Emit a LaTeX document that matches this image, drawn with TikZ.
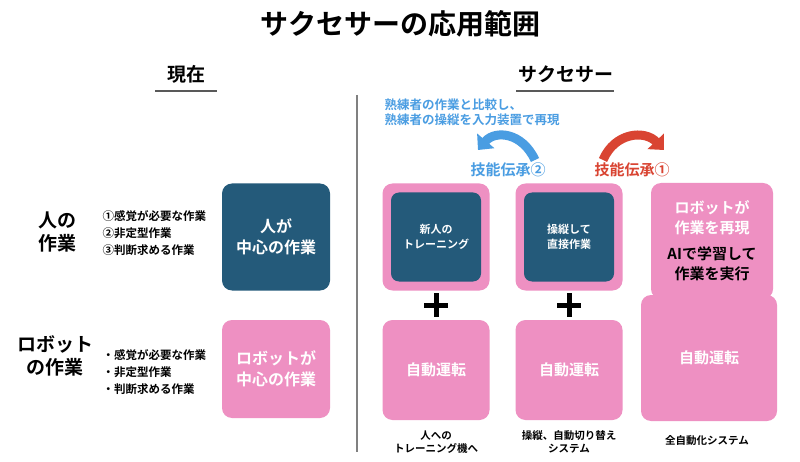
\documentclass[tikz,border=0pt]{standalone}
\usepackage{fontspec}
\setmainfont{Noto Sans CJK JP}[BoldFont={Noto Sans CJK JP Bold}]
\usetikzlibrary{arrows.meta}
\definecolor{dblue}{HTML}{245A7A}
\definecolor{pinkc}{HTML}{EE90C2}
\definecolor{lblue}{HTML}{4A9DE2}
\definecolor{redc}{HTML}{D94432}
\begin{document}
\begin{tikzpicture}[x=1pt,y=-1pt,
 dbox/.style={fill=dblue,rounded corners=10pt,text=white,font=\bfseries\fontsize{16}{21}\selectfont,align=center},
 pbox/.style={fill=pinkc,rounded corners=10pt,text=white,font=\bfseries\fontsize{15}{20}\selectfont,align=center},
 ibox/.style={fill=dblue,rounded corners=8pt,text=white,font=\bfseries\fontsize{11}{15}\selectfont,align=center},
 lab/.style={font=\bfseries\fontsize{11.5}{17}\selectfont,align=left,anchor=west},
 captxt/.style={font=\bfseries\fontsize{10.5}{12.5}\selectfont,align=center},
 big/.style={font=\bfseries\fontsize{19}{23}\selectfont,align=center},
 plus/.style={line width=5pt,black}]
\useasboundingbox (0,0) rectangle (800,462);
\fill[white] (0,0) rectangle (800,462);
\node[font=\bfseries\fontsize{28}{32}\selectfont] (title) at (400,24) {サクセサーの応用範囲};
\node[font=\bfseries\fontsize{19}{22}\selectfont] (now) at (186,74) {現在};
\draw[line width=1.8pt,gray!70!black] (155,91) -- (217,91);
\node[font=\bfseries\fontsize{19}{22}\selectfont] (succ) at (566,74) {サクセサー};
\draw[line width=1.8pt,gray!70!black] (516,91) -- (614,91);
\draw[line width=1.5pt,gray] (357,95) -- (357,452);
% left
\node[dbox,minimum width=108pt,minimum height=107pt] (hum) at (276,237) {人が\\中心の作業};
\node[pbox,minimum width=108pt,minimum height=98pt,font=\bfseries\fontsize{16}{21}\selectfont] (rob) at (276,369) {ロボットが\\中心の作業};
\node[big] (l1) at (57,232) {人の\\作業};
\node[big] (l2) at (55,356) {ロボット\\の作業};
\node[lab] (list1) at (99,233) {①感覚が必要な作業\\②非定型作業\\③判断求める作業};
\node[lab] (list2) at (99,372) {・感覚が必要な作業\\・非定型作業\\・判断求める作業};
% right column A
\node[pbox,minimum width=107pt,minimum height=107pt] (pa) at (436,237) {};
\node[ibox,minimum width=90pt,minimum height=89pt] (ia) at (436,237) {新人の\\トレーニング};
\node[pbox,minimum width=107pt,minimum height=100pt] (ba) at (436,370) {自動運転};
\draw[plus] (424,305) -- (448,305) (436,293) -- (436,317);
\node[captxt] (ca) at (436,442) {人への\\トレーニング機へ};
% B
\node[pbox,minimum width=107pt,minimum height=107pt] (pb) at (569,237) {};
\node[ibox,minimum width=90pt,minimum height=89pt] (ib) at (569,237) {操縦して\\直接作業};
\node[pbox,minimum width=107pt,minimum height=100pt] (bb) at (569,370) {自動運転};
\draw[plus] (557,305) -- (581,305) (569,293) -- (569,317);
\node[captxt] (cb) at (569,442) {操縦、自動切り替え\\システム};
% C
\node[pbox,minimum width=136pt,minimum height=126pt] (bc) at (709,358) {自動運転};
\node[pbox,minimum width=122pt,minimum height=116pt,font=\bfseries\fontsize{15}{20}\selectfont] (tc) at (712,241) {ロボットが\\作業を再現\\[6pt]\textcolor{black}{AIで学習して}\\\textcolor{black}{作業を実行}};
\node[captxt] (cc) at (707,441) {全自動化システム};
% arrows
\node[font=\bfseries\fontsize{12.5}{15}\selectfont,text=lblue,align=left,anchor=west] (note) at (381,112) {熟練者の作業と比較し、\\熟練者の操縦を入力装置で再現};
\node[font=\bfseries\fontsize{15}{18}\selectfont,text=lblue] (s2) at (508,170) {技能伝承②};
\node[font=\bfseries\fontsize{15}{18}\selectfont,text=redc] (s1) at (632,170) {技能伝承①};
\coordinate (a2s) at (535,160); \coordinate (a2e) at (478,150);
\coordinate (a1s) at (603,160); \coordinate (a1e) at (664,150);
\draw[lblue,line width=9pt,-{Triangle[length=12pt,width=22pt]}] (a2s) .. controls (522,132) and (495,130) .. (a2e);
\draw[redc,line width=9pt,-{Triangle[length=12pt,width=22pt]}] (a1s) .. controls (615,132) and (645,130) .. (a1e);
\end{tikzpicture}
\end{document}
